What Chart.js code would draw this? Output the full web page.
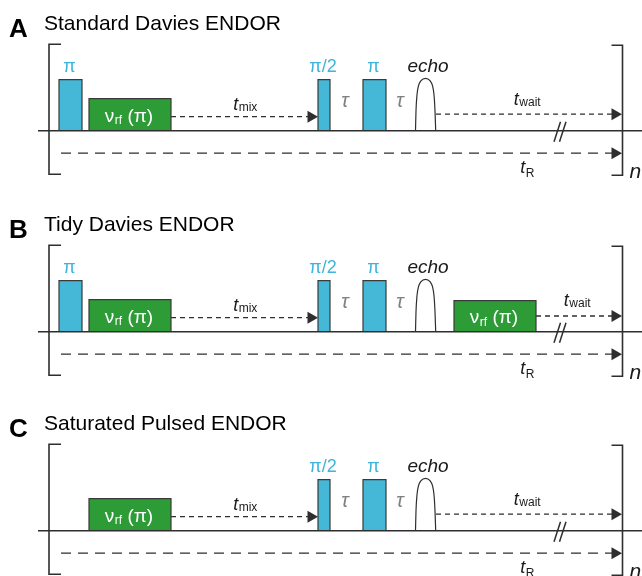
<!DOCTYPE html>
<html>
<head>
<meta charset="utf-8">
<script src="https://cdn.jsdelivr.net/npm/chart.js@4.4.1/dist/chart.umd.min.js"></script>
<style>
  html, body { margin: 0; padding: 0; background: #fff; }
  #wrap { position: relative; width: 642px; height: 576px; overflow: hidden; }
  #wrap canvas { position: absolute; left: 0; }
</style>
</head>
<body>
<div id="wrap"></div>
<script>
// panel titles
const panelLetters = ["A", "B", "C"];
const panelTitles = ["Standard Davies ENDOR", "Tidy Davies ENDOR", "Saturated Pulsed ENDOR"];

// microwave pulses (time axis in arbitrary units, height in amplitude units)
const mwStart = [59, 318, 363];
const mwEnd = [82, 330, 386];
const mwHeight = [51, 51, 51];
const mwLabels = ["π", "π/2", "π"];
const panelMw = [[0, 1, 2], [0, 1, 2], [1, 2]];

// rf pulses
const rfStart = [89, 454];
const rfEnd = [171, 536];
const rfHeight = [32, 31];
const panelRf = [[0], [0, 1], [0]];

// echo shape
const echoX = [415.5, 416, 417, 418.5, 421, 425.5, 430, 432.5, 434, 435, 435.7];
const echoY = [0, 20, 36, 45, 50, 52.3, 50, 45, 36, 20, 0];

// delays: tau between pulses, t_mix, t_wait, t_R
const tauX = [345, 400];
const mixStart = 171, mixEnd = 318;
const waitStart = [436, 536, 436];
const waitEnd = 622;
const repStart = 61, repEnd = 622;
const seqStart = 38, seqEnd = 642;
const breakAt = 560;

const CYAN = "#45b8d7";
const GREEN = "#2d9b36";
const DARK = "#2e2e2e";
const LABEL_CYAN = "#3db4d9";
const FONT = "'Liberation Sans', Arial, sans-serif";

function rect(x0, x1, h) {
  return [{x: x0, y: 0}, {x: x0, y: h}, {x: x1, y: h}, {x: x1, y: 0}];
}

function arrowLine(x0, x1, y, dash, tip) {
  return {
    data: [{x: x0, y: y}, {x: x1 - tip, y: y}],
    showLine: true, borderColor: DARK, borderWidth: 1.3, borderDash: dash,
    pointRadius: [0, tip], pointStyle: "triangle", pointRotation: 90,
    pointBackgroundColor: DARK, pointBorderColor: DARK, pointBorderWidth: 0,
    fill: false, clip: false
  };
}

function drawSub(ctx, cx, by, main, sub, mainFont, subFont, drop, color) {
  ctx.font = mainFont;
  const w1 = ctx.measureText(main).width;
  ctx.font = subFont;
  const w2 = ctx.measureText(sub).width;
  const x0 = cx - (w1 + w2) / 2;
  ctx.fillStyle = color;
  ctx.textAlign = "left";
  ctx.textBaseline = "alphabetic";
  ctx.font = mainFont;
  ctx.fillText(main, x0, by);
  ctx.font = subFont;
  ctx.fillText(sub, x0 + w1 + 0.5, by + drop);
}

const labelPlugin = {
  id: "seqLabels",
  afterDatasetsDraw(chart) {
    const p = chart.options.plugins.seqLabels.panel;
    const ctx = chart.ctx;
    const px = v => chart.scales.x.getPixelForValue(v);
    const py = v => chart.scales.y.getPixelForValue(v);
    ctx.save();
    ctx.textBaseline = "alphabetic";

    // title
    ctx.fillStyle = "#000";
    ctx.font = "bold 26px " + FONT;
    ctx.textAlign = "left";
    ctx.fillText(panelLetters[p], 9, 37);
    ctx.font = "21px " + FONT;
    ctx.fillText(panelTitles[p], 44, 29.5);

    // mw pulse labels
    ctx.textAlign = "center";
    ctx.fillStyle = LABEL_CYAN;
    ctx.font = "18px " + FONT;
    panelMw[p].forEach(i => {
      ctx.fillText(mwLabels[i], px((mwStart[i] + mwEnd[i]) / 2) - 1, py(mwHeight[i] + 7.5));
    });

    // tau labels
    ctx.fillStyle = "#808080";
    ctx.font = "italic 20px " + FONT;
    tauX.forEach(x => ctx.fillText("τ", px(x), py(23.5)));

    // echo
    ctx.fillStyle = "#1a1a1a";
    ctx.font = "italic 19px " + FONT;
    ctx.fillText("echo", px(428), py(59));

    // rf labels: ν_rf (π), centred on the pulse
    panelRf[p].forEach(i => {
      const mainF = "19px " + FONT, subF = "12px " + FONT;
      ctx.font = mainF;
      const w1 = ctx.measureText("ν").width;
      const w3 = ctx.measureText(" (π)").width;
      ctx.font = subF;
      const w2 = ctx.measureText("rf").width;
      const total = w1 + w2 + w3 + 0.5;
      const x0 = px((rfStart[i] + rfEnd[i]) / 2) - total / 2 - 1;
      const by = py(rfHeight[i] / 2 - 7);
      ctx.fillStyle = "#fff";
      ctx.textAlign = "left";
      ctx.font = mainF;
      ctx.fillText("ν", x0, by);
      ctx.font = subF;
      ctx.fillText("rf", x0 + w1 + 0.5, by + 2.5);
      ctx.font = mainF;
      ctx.fillText(" (π)", x0 + w1 + w2 + 0.5, by);
    });

    // delay labels
    const tFont = "italic 18px " + FONT, sFont = "12px " + FONT;
    drawSub(ctx, px(245), py(21), "t", "mix", tFont, sFont, 1.5, "#1a1a1a");
    const wx = p === 1 ? 577 : 527;
    drawSub(ctx, px(wx), py(26), "t", "wait", tFont, sFont, 1.5, "#1a1a1a");
    drawSub(ctx, px(527), py(-42.5), "t", "R", tFont, sFont, 3.5, "#1a1a1a");

    // repetition count
    ctx.textAlign = "left";
    ctx.font = "italic 21px " + FONT;
    ctx.fillStyle = "#1a1a1a";
    ctx.fillText("n", px(629.5), py(-47.5));
    ctx.restore();
  }
};

function buildDatasets(p) {
  const ds = [];
  // baseline on top
  ds.push({ data: [{x: seqStart, y: 0}, {x: seqEnd, y: 0}], showLine: true,
    borderColor: DARK, borderWidth: 1.6, pointRadius: 0, clip: false });
  // break marks
  [0, 5.5].forEach(d => ds.push({
    data: [{x: breakAt - 6 + d, y: -11}, {x: breakAt + 0.5 + d, y: 9}], showLine: true,
    borderColor: DARK, borderWidth: 1.5, pointRadius: 0, clip: false }));
  // brackets
  ds.push({ data: [{x: 61, y: 86.5}, {x: 49, y: 86.5}, {x: 49, y: -43.5}, {x: 61, y: -43.5}],
    showLine: true, borderColor: DARK, borderWidth: 1.6, pointRadius: 0, clip: false });
  ds.push({ data: [{x: 611.5, y: 85.5}, {x: 622.5, y: 85.5}, {x: 622.5, y: -44.5}, {x: 611.5, y: -44.5}],
    showLine: true, borderColor: DARK, borderWidth: 1.6, pointRadius: 0, clip: false });
  // mw pulses
  panelMw[p].forEach(i => ds.push({ data: rect(mwStart[i], mwEnd[i], mwHeight[i]), showLine: true,
    fill: "origin", backgroundColor: CYAN, borderColor: "#3a3a3a", borderWidth: 1.2,
    pointRadius: 0, clip: false }));
  // rf pulses
  panelRf[p].forEach(i => ds.push({ data: rect(rfStart[i], rfEnd[i], rfHeight[i]), showLine: true,
    fill: "origin", backgroundColor: GREEN, borderColor: "#3a3a3a", borderWidth: 1.2,
    pointRadius: 0, clip: false }));
  // echo
  ds.push({ data: echoX.map((x, k) => ({x: x, y: echoY[k]})), showLine: true,
    cubicInterpolationMode: "monotone",
    fill: false, borderColor: DARK, borderWidth: 1.2, pointRadius: 0, clip: false });
  // delays
  ds.push(arrowLine(mixStart, mixEnd, 14, [5, 4], 7));
  ds.push(arrowLine(waitStart[p], waitEnd, p === 1 ? 15.7 : 16.5, [5, 4], 7));
  ds.push(arrowLine(repStart, repEnd, -22.5, [10, 7], 7));
  return ds;
}

const tops = [0, 201, 400];
tops.forEach((top, p) => {
  const c = document.createElement("canvas");
  c.width = 642; c.height = 200;
  c.style.width = "642px"; c.style.height = "200px";
  c.style.top = top + "px";
  document.getElementById("wrap").appendChild(c);
  new Chart(c.getContext("2d"), {
    type: "scatter",
    data: { datasets: buildDatasets(p) },
    options: {
      responsive: false, animation: false, devicePixelRatio: 1,
      layout: { padding: 0, autoPadding: false },
      plugins: { legend: { display: false }, tooltip: { enabled: false }, seqLabels: { panel: p } },
      scales: {
        x: { type: "linear", min: 0, max: 642, display: false },
        y: { type: "linear", min: -69.3, max: 130.7, display: false }
      }
    },
    plugins: [labelPlugin]
  });
});
</script>
</body>
</html>
